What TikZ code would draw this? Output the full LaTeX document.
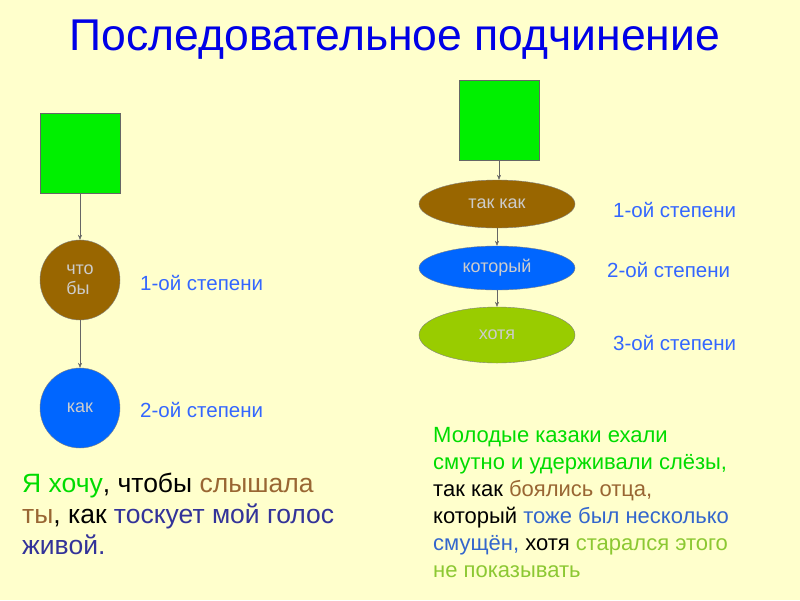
\documentclass[tikz,border=0pt]{standalone}
\usepackage{fontspec}
\setmainfont{Liberation Sans}
\usetikzlibrary{arrows.meta,shapes.geometric}
\definecolor{bg}{RGB}{255,255,204}
\definecolor{grn}{RGB}{0,240,0}
\definecolor{brn}{RGB}{153,102,0}
\definecolor{blu}{RGB}{0,102,255}
\definecolor{ygr}{RGB}{153,204,0}
\definecolor{lbl}{RGB}{51,102,255}
\definecolor{ttl}{RGB}{0,0,230}
\definecolor{tgreen}{RGB}{0,220,0}
\definecolor{tbrown}{RGB}{153,102,51}
\definecolor{tblue}{RGB}{51,102,204}
\definecolor{tnavy}{RGB}{51,51,153}
\definecolor{tyg}{RGB}{140,200,50}
\tikzset{
 sq/.style={draw=black!60,fill=grn,minimum size=80pt,inner sep=0},
 circ/.style={circle,draw=black!50,minimum size=80pt,inner sep=0,font=\fontsize{18}{20}\selectfont,text=white!80!black},
 ell/.style={ellipse,draw=black!50,minimum width=156pt,inner sep=0,font=\fontsize{18}{20}\selectfont,text=white!80!black},
 lab/.style={text=lbl,font=\fontsize{20.5}{22}\selectfont},
 arr/.style={-{Stealth[length=5pt,width=4pt]},black!60},
}
\begin{document}
\begin{tikzpicture}[x=1pt,y=-1pt]
\fill[bg] (0,0) rectangle (800,600);
\useasboundingbox (0,0) rectangle (800,600);
\node[text=ttl,font=\fontsize{44.5}{46}\selectfont] (title) at (395,40) {Последовательное подчинение};
\node[sq] (s1) at (80,153) {};
\node[circ,fill=brn,align=left] (c1) at (80,280) {что\\бы};
\node[circ,fill=blu] (c2) at (80,408) {как};
\draw[arr] (s1) -- (c1);
\draw[arr] (c1) -- (c2);
\node[lab,anchor=west,inner sep=0] (l1) at (140,283) {1-ой степени};
\node[lab,anchor=west,inner sep=0] (l2) at (140,410) {2-ой степени};
\node[sq] (s2) at (499,120) {};
\node[ell,fill=brn,minimum height=48pt] (e1) at (497,204) {так как};
\node[ell,fill=blu,minimum height=44pt] (e2) at (497,268) {который};
\node[ell,fill=ygr,minimum height=56pt] (e3) at (497,335) {хотя};
\draw[arr] (s2) -- (s2 |- e1.north);
\draw[arr] (e1) -- (e2);
\draw[arr] (e2) -- (e3);
\node[lab,anchor=west,inner sep=0] (r1) at (613,210) {1-ой степени};
\node[lab,anchor=west,inner sep=0] (r2) at (607,270) {2-ой степени};
\node[lab,anchor=west,inner sep=0] (r3) at (613,343) {3-ой степени};
\node[anchor=north west,align=left,inner sep=0,font=\fontsize{22}{27}\selectfont] (p2) at (433,427) {%
\textcolor{tgreen}{Молодые казаки ехали}\\
\textcolor{tgreen}{смутно и удерживали слёзы,}\\
так как \textcolor{tbrown}{боялись отца,}\\
который \textcolor{tblue}{тоже был несколько}\\
\textcolor{tblue}{смущён,} хотя \textcolor{tyg}{старался этого}\\
\textcolor{tyg}{не показывать}};
\node[anchor=north west,align=left,inner sep=0,font=\fontsize{26.5}{31}\selectfont] (p1) at (22,473) {%
\textcolor{tgreen}{Я хочу}, чтобы \textcolor{tbrown}{слышала}\\
\textcolor{tbrown}{ты}, как \textcolor{tnavy}{тоскует мой голос}\\
\textcolor{tnavy}{живой.}};
\end{tikzpicture}
\end{document}
